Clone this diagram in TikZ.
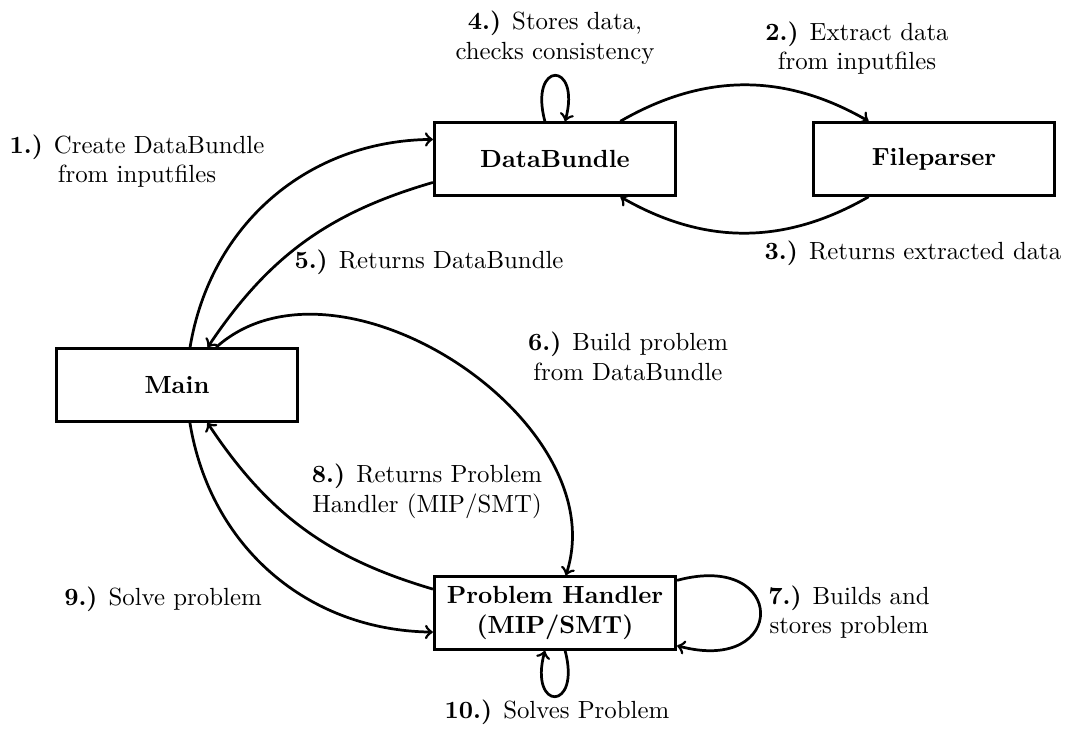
\documentclass[tikz,border=0pt]{standalone}
\usetikzlibrary{arrows}
\begin{document}
\begin{tikzpicture}[x=0.014164cm, y=0.014164cm,
  box/.style={draw, line width=1.1pt, minimum width=3.42cm, minimum height=1.03cm, font=\bfseries, align=center},
  conn/.style={->, line width=1.1pt},
  lbl/.style={align=center, inner sep=0pt}]
\useasboundingbox (0,0) rectangle (1070,-733);

% components
\node[box] (main) at (177,-385) {Main};
\node[box] (db)   at (555,-159) {DataBundle};
\node[box] (fp)   at (934,-159) {Fileparser};
\node[box] (ph)   at (555,-613) {Problem Handler\\(MIP/SMT)};

% calls and returns
\draw[conn] (main) to[bend left=40] (db);
\draw[conn] (db) to[bend left=30] (fp);
\draw[conn] (fp) to[bend left=30] (db);
\draw[conn] (db) to[loop above] (db);
\draw[conn] (db) to[bend right=20] (main);
\draw[conn] (main) to[bend left=75] (ph);
\draw[conn] (ph) to[loop right, looseness=4.5] (ph);
\draw[conn] (ph) to[bend left=20] (main);
\draw[conn] (main) to[bend right=40] (ph);
\draw[conn] (ph) to[loop below] (ph);

% step descriptions
\node[lbl] (l1)  at (137,-161) {\textbf{1.)} Create DataBundle\\from inputfiles};
\node[lbl] (l2)  at (857,-48)  {\textbf{2.)} Extract data\\from inputfiles};
\node[lbl] (l3)  at (913,-253) {\textbf{3.)} Returns extracted data};
\node[lbl] (l4)  at (555,-38)  {\textbf{4.)} Stores data,\\checks consistency};
\node[lbl] (l5)  at (429,-262) {\textbf{5.)} Returns DataBundle};
\node[lbl] (l6)  at (628,-356) {\textbf{6.)} Build problem\\from DataBundle};
\node[lbl] (l7)  at (849,-612) {\textbf{7.)} Builds and\\stores problem};
\node[lbl] (l8)  at (427,-491) {\textbf{8.)} Returns Problem\\Handler (MIP/SMT)};
\node[lbl] (l9)  at (163,-599) {\textbf{9.)} Solve problem};
\node[lbl] (l10) at (557,-712) {\textbf{10.)} Solves Problem};
\end{tikzpicture}
\end{document}
